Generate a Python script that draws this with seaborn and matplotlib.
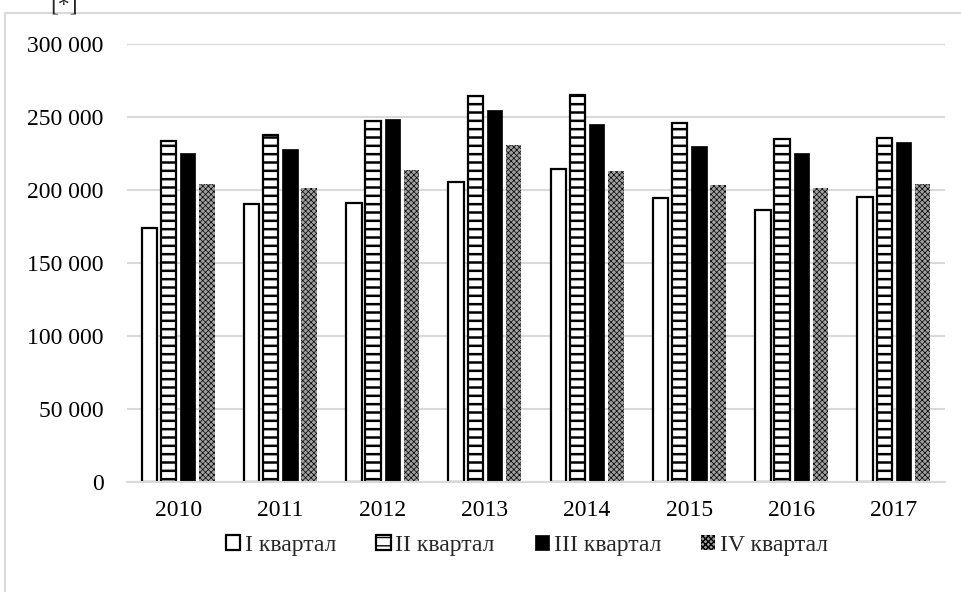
import numpy as np
import pandas as pd
import seaborn as sns
import matplotlib.pyplot as plt
from matplotlib.ticker import FuncFormatter
from matplotlib.patches import Rectangle

years = ['2010', '2011', '2012', '2013', '2014', '2015', '2016', '2017']
quarters = ['I квартал', 'II квартал', 'III квартал', 'IV квартал']
q1 = [174200, 190600, 191000, 205200, 214700, 194500, 186200, 194900]
q2 = [233400, 237900, 247500, 264300, 265400, 245900, 234600, 235800]
q3 = [225300, 228100, 248900, 254800, 245500, 230300, 225500, 233000]
q4 = [203900, 201200, 213700, 230500, 213100, 203400, 201400, 204100]

sns.set_style('white')
plt.rcParams['font.family'] = ['Liberation Serif', 'DejaVu Serif']
plt.rcParams['font.size'] = 17

rows = []
for q, vals in zip(quarters, [q1, q2, q3, q4]):
	for y, v in zip(years, vals):
		rows.append({'year': y, 'value': v, 'quarter': q})
df = pd.DataFrame(rows)

fig = plt.figure(figsize=(9.61, 5.92), dpi=100)
ax = fig.add_axes([127/961, 1-482/592, 818/961, 438/592])

sns.barplot(data=df, x='year', y='value', hue='quarter', hue_order=quarters,
	palette=['white', 'white', 'black', 'white'], width=0.75, gap=0.2,
	ax=ax, legend=False, saturation=1)

styles = [
	dict(fc='white', ec='black', hatch=None, lw=1.6),
	dict(fc='white', ec='black', hatch='--', lw=1.6),
	dict(fc='black', ec='black', hatch=None, lw=0.5),
	dict(fc='#a0a0a0', ec='black', hatch='xxxxxx', lw=0),
]
handles = []
for cont, st in zip(ax.containers, styles):
	for b in cont:
		b.set_facecolor(st['fc'])
		b.set_edgecolor(st['ec'])
		b.set_linewidth(st['lw'])
		if st['hatch']:
			b.set_hatch(st['hatch'])
			if hasattr(b, 'set_hatch_linewidth'):
				b.set_hatch_linewidth(1.8 if st['hatch'] == '--' else 0.5)
	handles.append(cont[0])

ax.set_ylim(0, 300000)
ax.set_yticks(np.arange(0, 300001, 50000))
ax.yaxis.set_major_formatter(FuncFormatter(lambda v, p: f'{int(v):,}'.replace(',', ' ')))
ax.yaxis.grid(True, color='#d9d9d9', lw=1.5)
ax.set_axisbelow(True)
for s in ['top', 'right', 'left']:
	ax.spines[s].set_visible(False)
ax.spines['bottom'].set_color('#d9d9d9')
ax.spines['bottom'].set_linewidth(1.5)
ax.tick_params(axis='both', length=0, labelsize=17, colors='black')
ax.tick_params(axis='y', pad=17)
ax.tick_params(axis='x', pad=13)
ax.set_xlabel('')
ax.set_ylabel('')

fig.legend(handles, quarters, loc='center', bbox_to_anchor=(527/961, 1-545/592),
	ncol=4, frameon=False, fontsize=17, handlelength=0.6, handleheight=0.6,
	handletextpad=0.2, columnspacing=1.7)

fig.patches.append(Rectangle((5/961, -0.1), 1.1, 1-13/592+0.1, transform=fig.transFigure,
	fill=False, ec='#d9d9d9', lw=1.5))
fig.text(50/961, 1+6/592, '[*]', fontsize=17, va='top')

fig.savefig('out.png', dpi=100)
